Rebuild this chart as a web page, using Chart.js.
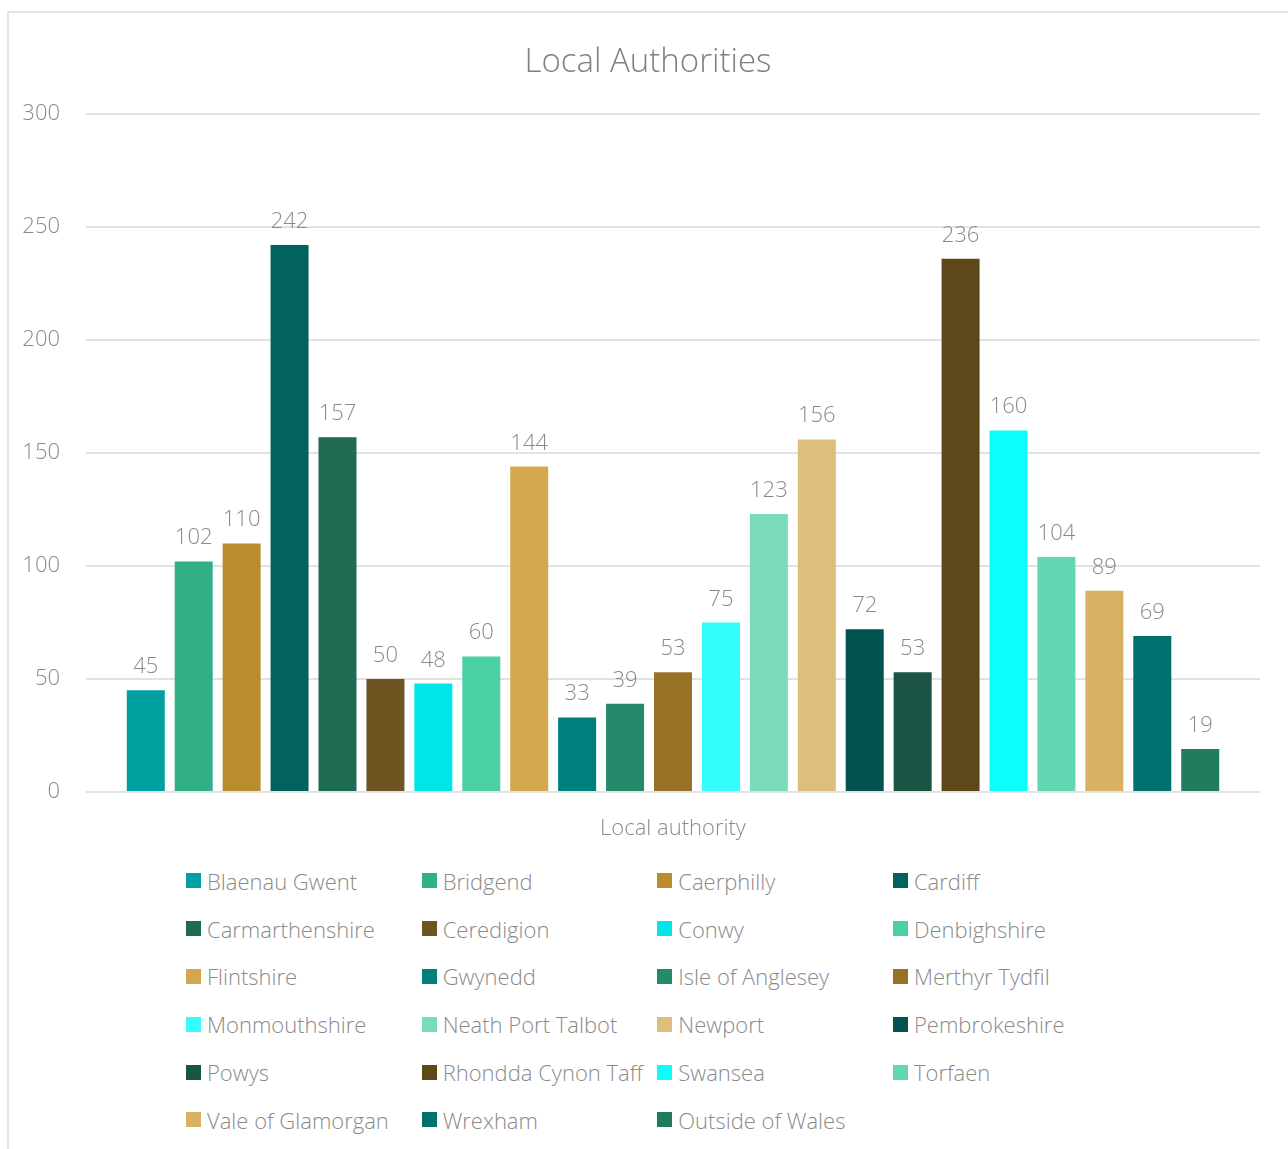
<!DOCTYPE html>
<html>
<head>
<meta charset="utf-8">
<title>Local Authorities</title>
<script src="https://cdn.jsdelivr.net/npm/chart.js@4.4.1/dist/chart.umd.min.js"></script>
<style>
  body { margin: 0; background: #fff; font-family: "Open Sans", sans-serif; font-weight: 300; }
  #frame { position: absolute; left: 7px; top: 11px; width: 1300px; height: 1160px;
           border-left: 2px solid #e4e4e4; border-top: 2px solid #e4e4e4; }
  #chartTitle { position: absolute; left: 0; top: 40px; width: 1296px; text-align: center;
                font-size: 33px; line-height: 40px; color: #7f7f7f; }
  #chartBox { position: absolute; left: 0; top: 0; width: 1288px; height: 850px; }
  #legend { position: absolute; left: 186px; top: 857px; display: grid;
            grid-template-columns: repeat(4, 235.67px); grid-auto-rows: 47.8px; }
  .item { display: flex; align-items: center; white-space: nowrap; font-size: 22px; color: #8a8a8a; }
  .sw { width: 15px; height: 15px; margin-right: 6px; flex: none; }
</style>
</head>
<body>
<div id="frame"></div>
<div id="chartBox"><canvas id="myChart" width="1288" height="850"></canvas></div>
<div id="chartTitle">Local Authorities</div>
<div id="legend"></div>

<script>
// one category, one series per local authority
var categories = ["Local authority"];
var authorities = ["Blaenau Gwent", "Bridgend", "Caerphilly", "Cardiff", "Carmarthenshire",
  "Ceredigion", "Conwy", "Denbighshire", "Flintshire", "Gwynedd", "Isle of Anglesey",
  "Merthyr Tydfil", "Monmouthshire", "Neath Port Talbot", "Newport", "Pembrokeshire",
  "Powys", "Rhondda Cynon Taff", "Swansea", "Torfaen", "Vale of Glamorgan", "Wrexham",
  "Outside of Wales"];
var counts = [45, 102, 110, 242, 157, 50, 48, 60, 144, 33, 39, 53, 75, 123, 156, 72, 53, 236, 160, 104, 89, 69, 19];
var barColors = ["#00a0a0", "#31af86", "#b98c2e", "#02625e", "#1f6a53", "#6e5420", "#00e5e8",
  "#4bcfa5", "#d3a84c", "#007f7f", "#258a6b", "#977226", "#33fdfd", "#79dabc", "#ddbe7b",
  "#025350", "#1a5444", "#5d4819", "#0dfdfd", "#63d6b3", "#d8b262", "#00716e", "#217b5e"];
var yMax = 300;
var yStep = 50;

var textGrey = "#8a8a8a";
var fontFamily = "'Open Sans', sans-serif";

var datasets = authorities.map(function (name, i) {
  return {
    label: name,
    data: [counts[i]],
    backgroundColor: barColors[i],
    borderWidth: 0,
    barPercentage: 0.793,
    categoryPercentage: 0.939
  };
});

// value above each bar
var valueLabels = {
  id: "valueLabels",
  afterDatasetsDraw: function (chart) {
    var ctx = chart.ctx;
    ctx.save();
    ctx.font = "300 22px " + fontFamily;
    ctx.fillStyle = textGrey;
    ctx.textAlign = "center";
    ctx.textBaseline = "alphabetic";
    chart.data.datasets.forEach(function (ds, i) {
      chart.getDatasetMeta(i).data.forEach(function (bar, j) {
        ctx.fillText(ds.data[j], bar.x, bar.y - 17);
      });
    });
    ctx.restore();
  }
};

var chart = new Chart("myChart", {
  type: "bar",
  data: { labels: categories, datasets: datasets },
  options: {
    responsive: false,
    animation: false,
    layout: { padding: { top: 114, right: 28, bottom: 0, left: 0 } },
    plugins: {
      legend: { display: false },
      tooltip: { enabled: false },
      title: { display: false }
    },
    scales: {
      x: {
        grid: { display: false },
        border: { display: false },
        ticks: { color: textGrey, padding: 16, font: { family: fontFamily, size: 22, weight: "300" } },
        afterFit: function (s) { s.height = 58; }
      },
      y: {
        min: 0,
        max: yMax,
        grid: { color: "#e2e2e2", lineWidth: 2, drawTicks: false },
        border: { display: false },
        ticks: { stepSize: yStep, color: textGrey, padding: 26, font: { family: fontFamily, size: 22, weight: "300" } },
        afterFit: function (s) { s.width = 86; }
      }
    }
  },
  plugins: [valueLabels]
});

// legend laid out as a 4 column grid, like the original
var legendBox = document.getElementById("legend");
chart.data.datasets.forEach(function (ds) {
  var item = document.createElement("div");
  item.className = "item";
  var sw = document.createElement("span");
  sw.className = "sw";
  sw.style.background = ds.backgroundColor;
  item.appendChild(sw);
  item.appendChild(document.createTextNode(ds.label));
  legendBox.appendChild(item);
});
</script>
</body>
</html>
